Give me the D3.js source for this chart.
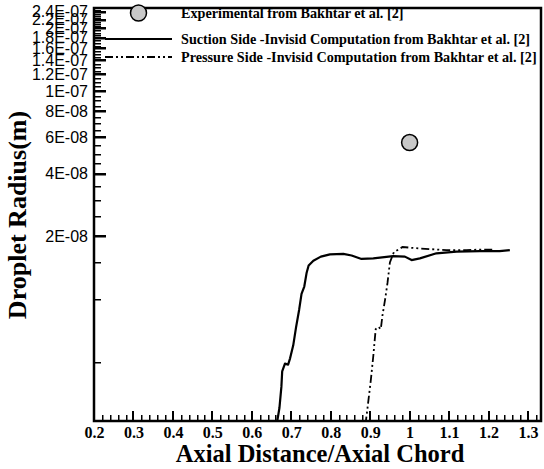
<!DOCTYPE html>
<html><head><meta charset="utf-8">
<script src="https://cdn.jsdelivr.net/npm/d3@7"></script>
<style>body{margin:0;background:#fff}svg{display:block}</style>
</head><body><svg id="c" width="544" height="469" xmlns="http://www.w3.org/2000/svg"></svg>
<script>
// ---- data ----
const suctionX = [0.663,0.670,0.675,0.677,0.684,0.692,0.697,0.705,0.712,0.720,0.726,0.733,0.739,0.744,0.756,0.775,0.798,0.832,0.853,0.878,0.908,0.958,0.988,1.005,1.026,1.068,1.119,1.178,1.228,1.254];
const suctionY = [2.5e-9,3.0e-9,3.8e-9,4.5e-9,4.9e-9,4.85e-9,5.2e-9,6.0e-9,7.3e-9,8.9e-9,1.06e-8,1.15e-8,1.34e-8,1.45e-8,1.53e-8,1.60e-8,1.64e-8,1.65e-8,1.62e-8,1.56e-8,1.57e-8,1.61e-8,1.60e-8,1.54e-8,1.57e-8,1.66e-8,1.69e-8,1.70e-8,1.70e-8,1.72e-8];
const pressureX = [0.888,0.893,0.902,0.908,0.914,0.921,0.927,0.931,0.938,0.944,0.950,0.960,0.982,1.026,1.093,1.144,1.178,1.211];
const pressureY = [2.5e-9,2.97e-9,4.14e-9,5.35e-9,7.18e-9,7.36e-9,7.18e-9,8.32e-9,1.0e-8,1.2e-8,1.5e-8,1.68e-8,1.78e-8,1.75e-8,1.72e-8,1.72e-8,1.73e-8,1.73e-8];
const expX = [1.0];
const expY = [5.65e-8];
const xTickValues = [0.2,0.3,0.4,0.5,0.6,0.7,0.8,0.9,1.0,1.1,1.2,1.3];
const xTickLabels = ["0.2","0.3","0.4","0.5","0.6","0.7","0.8","0.9","1","1.1","1.2","1.3"];
const yTickValues = [2e-8,4e-8,6e-8,8e-8,1e-7,1.2e-7,1.4e-7,1.6e-7,1.8e-7,2e-7,2.2e-7,2.4e-7];
const yTickLabels = ["2E-08","4E-08","6E-08","8E-08","1E-07","1.2E-07","1.4E-07","1.6E-07","1.8E-07","2E-07","2.2E-07","2.4E-07"];
const legendLabels = ["Experimental from Bakhtar et al. [2]","Suction Side -Invisid Computation from Bakhtar et al. [2]","Pressure Side -Invisid Computation from Bakhtar et al. [2]"];
const xTitle = "Axial Distance/Axial Chord";
const yTitle = "Droplet Radius(m)";

// ---- layout ----
const L = 94, R = 541, T = 8, B = 421;
const svg = d3.select("#c");
const x = d3.scaleLinear().domain([0.2, 1.333]).range([L, R]);
const y = d3.scaleLog().domain([2.6e-9, 2.5e-7]).range([B, T]);
const serif = "'Liberation Serif','Times New Roman',serif";
const sans = "'Liberation Sans',Arial,sans-serif";

const xMinor = d3.range(0, 57).map(i => 0.2 + i*0.02).filter(v => v <= 1.333 && Math.abs(v*10 - Math.round(v*10)) > 1e-6);
const yMinor = d3.range(1, 50).map(i => i*0.5e-8).filter(v => v >= 2.6e-9 && v <= 2.5e-7 && Math.abs(v/2e-8 - Math.round(v/2e-8)) > 1e-6);

// tick marks (inward) as rects
const tk = svg.append("g").attr("fill", "#000");
tk.selectAll("rect.xmin").data(xMinor).join("rect").attr("class", "xmin")
  .attr("x", d => Math.round(x(d))).attr("y", B - 6).attr("width", 1.5).attr("height", 6);
tk.selectAll("rect.xmaj").data(xTickValues).join("rect").attr("class", "xmaj")
  .attr("x", d => Math.round(x(d)) - 1).attr("y", B - 10).attr("width", 2).attr("height", 10);
tk.selectAll("rect.ymin").data(yMinor).join("rect").attr("class", "ymin")
  .attr("x", L).attr("y", d => Math.round(y(d))).attr("width", 7).attr("height", 1.5);
tk.selectAll("rect.ymaj").data(yTickValues).join("rect").attr("class", "ymaj")
  .attr("x", L).attr("y", d => Math.round(y(d)) - 1).attr("width", 12).attr("height", 2.5);

// frame
svg.append("rect").attr("x", L).attr("y", T).attr("width", R-L).attr("height", B-T)
  .attr("fill", "none").attr("stroke", "#000").attr("stroke-width", 2.5);

// axis labels through d3 axes
svg.append("g").attr("transform", `translate(0,${B})`)
  .call(d3.axisBottom(x).tickValues(xTickValues).tickSize(0).tickPadding(6)
    .tickFormat((d,i) => xTickLabels[i]))
  .call(g => g.select(".domain").remove())
  .call(g => g.selectAll(".tick line").remove())
  .call(g => g.selectAll("text").attr("font-family", serif).attr("font-weight", "bold")
    .attr("font-size", 16).attr("fill", "#000"));
svg.append("g").attr("transform", `translate(${L},0)`)
  .call(d3.axisLeft(y).tickValues(yTickValues).tickSize(0).tickPadding(6)
    .tickFormat((d,i) => yTickLabels[i]))
  .call(g => g.select(".domain").remove())
  .call(g => g.selectAll(".tick line").remove())
  .call(g => g.selectAll("text").attr("font-family", sans).attr("font-size", 16).attr("fill", "#000"));

svg.append("clipPath").attr("id", "clip").append("rect")
  .attr("x", L).attr("y", T).attr("width", R-L).attr("height", B-T);

const line = d3.line().x(d => x(d[0])).y(d => y(d[1]));
const suction = suctionX.map((v,i) => [v, suctionY[i]]);
const pressure = pressureX.map((v,i) => [v, pressureY[i]]);
const dash = "8,3,2,3,2,3";

const plot = svg.append("g").attr("clip-path", "url(#clip)");
plot.append("path").datum(suction).attr("d", line).attr("fill", "none")
  .attr("stroke", "#000").attr("stroke-width", 2.2).attr("stroke-linejoin", "round");
plot.append("path").datum(pressure).attr("d", line).attr("fill", "none")
  .attr("stroke", "#000").attr("stroke-width", 1.8).attr("stroke-dasharray", dash);
plot.selectAll("circle.exp").data(expX.map((v,i) => [v, expY[i]])).join("circle")
  .attr("class", "exp").attr("cx", d => x(d[0])).attr("cy", d => y(d[1])).attr("r", 8)
  .attr("fill", "#c8c8c8").attr("stroke", "#000").attr("stroke-width", 1.5);

// legend
const lg = svg.append("g");
const rowY = [13, 39, 57];
const lx0 = 105, lx1 = 172, tx = 181;
lg.append("circle").attr("cx", (lx0+lx1)/2).attr("cy", rowY[0]).attr("r", 8)
  .attr("fill", "#c8c8c8").attr("stroke", "#000").attr("stroke-width", 1.5);
lg.append("line").attr("x1", lx0).attr("x2", lx1).attr("y1", rowY[1]).attr("y2", rowY[1])
  .attr("stroke", "#000").attr("stroke-width", 2.2);
lg.append("line").attr("x1", lx0).attr("x2", lx1).attr("y1", rowY[2]).attr("y2", rowY[2])
  .attr("stroke", "#000").attr("stroke-width", 1.8).attr("stroke-dasharray", dash);
lg.selectAll("text").data(legendLabels).join("text")
  .attr("x", tx).attr("y", (d,i) => rowY[i]).attr("dy", "0.35em")
  .attr("font-family", serif).attr("font-weight", "bold").attr("font-size", 14.2)
  .attr("fill", "#000").text(d => d);

// titles
svg.append("text").attr("x", 320).attr("y", 462).attr("text-anchor", "middle")
  .attr("font-family", serif).attr("font-weight", "bold").attr("font-size", 24.5).text(xTitle);
svg.append("text").attr("transform", "translate(26,215) rotate(-90)").attr("text-anchor", "middle")
  .attr("font-family", serif).attr("font-weight", "bold").attr("font-size", 26).text(yTitle);
</script></body></html>
